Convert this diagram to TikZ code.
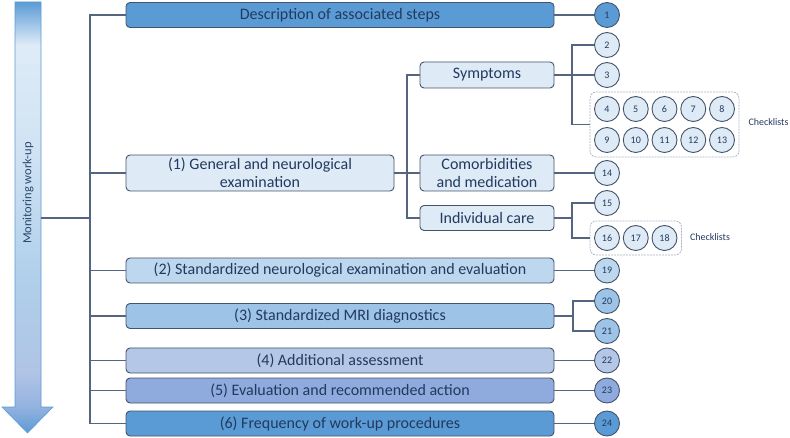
\documentclass[tikz,border=0pt]{standalone}
\usepackage{fontspec}
\setmainfont{Carlito}
\usetikzlibrary{positioning,fit,calc}

\definecolor{lvl1}{HTML}{DEEBF7}
\definecolor{lvl2}{HTML}{BDD7EE}
\definecolor{lvl3}{HTML}{9DC3E6}
\definecolor{lvl4}{HTML}{B4C7E7}
\definecolor{lvl5}{HTML}{8FAADC}
\definecolor{lvl6}{HTML}{5B9BD5}
\definecolor{edgecol}{HTML}{44546A}
\definecolor{linecol}{HTML}{56657F}
\definecolor{textcol}{HTML}{223A5E}
\definecolor{grpcol}{HTML}{A6B2C4}

\pgfdeclareverticalshading{workup}{100bp}{color(0bp)=(lvl6); color(25bp)=(lvl6);
  color(28bp)=(lvl5!70!lvl3); color(32bp)=(lvl4!90!lvl5); color(43bp)=(lvl3!40!lvl2);
  color(58bp)=(lvl2!40!lvl1); color(70bp)=(lvl1); color(73bp)=(lvl6!60!lvl1);
  color(75bp)=(lvl6); color(100bp)=(lvl6)}

\tikzset{
  stepbox/.style={draw=edgecol, line width=0.9pt, rounded corners=4pt, text=textcol,
    font=\fontsize{16}{18}\selectfont, inner sep=0pt, align=center},
  mainbox/.style={stepbox, minimum width=428pt, minimum height=25pt},
  subbox/.style={stepbox, fill=lvl1, minimum width=134pt},
  num/.style={circle, draw=edgecol, line width=0.9pt, fill=lvl1, minimum size=25pt,
    inner sep=0pt, text=textcol, font=\fontsize{10}{11}\selectfont},
  grp/.style={draw=grpcol, dash pattern=on 2pt off 1pt, line width=0.7pt, rounded corners=6pt, inner sep=4pt},
  note/.style={text=textcol, font=\fontsize{10}{12}\selectfont, anchor=west, inner sep=0pt},
  conn/.style={draw=linecol, line width=1.3pt}
}

\begin{document}
\begin{tikzpicture}[x=1pt, y=-1pt, node distance=28.75pt, on grid]
    \useasboundingbox (0,0) rectangle (790,438);

    \shadedraw[shading=workup, draw=lvl6, line width=0.6pt]
      (15,2) -- (41,2) -- (41,407) -- (53,407) -- (27.5,433) -- (2,407) -- (15,407) -- cycle;
    \node[text=textcol!85!lvl6, font=\fontsize{12.5}{14}\selectfont, rotate=90] (mon) at (28,193) {Monitoring work-up};
    \coordinate (arr_r) at (41,218);
    \coordinate (trunk) at (90,218);

    \node[mainbox, fill=lvl6] (desc) at (340,15) {Description of associated steps};
    \node[stepbox, fill=lvl1, minimum width=268pt, minimum height=36pt] (b1) at (260,173) {(1) General and neurological\\examination};
    \node[mainbox, fill=lvl2] (b2) at (340,270.5) {(2) Standardized neurological examination and evaluation};
    \node[mainbox, fill=lvl3] (b3) at (340,316) {(3) Standardized MRI diagnostics};
    \node[mainbox, fill=lvl4] (b4) at (340,360.5) {(4) Additional assessment};
    \node[mainbox, fill=lvl5] (b5) at (340,390.5) {(5) Evaluation and recommended action};
    \node[mainbox, fill=lvl6] (b6) at (340,423.5) {(6) Frequency of work-up procedures};

    \node[subbox, minimum height=26pt] (sym) at (487,75) {Symptoms};
    \node[subbox, minimum height=36pt] (cmb) at (487,173) {Comorbidities\\and medication};
    \node[subbox, minimum height=25pt] (ind) at (487,218) {Individual care};

    \node[num, fill=lvl6] (n1) at (607,15) {1};
    \node[num] (n2) at (607,45) {2};
    \node[num] (n3) at (607,75) {3};
    \node[num] (n4) at (607,109) {4};
    \foreach \i [count=\j from 4] in {5,...,8}
      \node[num, right=of n\j] (n\i) {\i};
    \node[num, below=31pt of n4] (n9) {9};
    \foreach \i [count=\j from 9] in {10,...,13}
      \node[num, right=of n\j] (n\i) {\i};
    \node[grp, fit=(n4)(n13)] (chk1) {};
    \node[note] (chk1_lbl) at ([xshift=9pt,yshift=2pt]chk1.east) {Checklists};

    \node[num] (n14) at (607,173) {14};
    \node[num] (n15) at (607,203) {15};
    \node[num] (n16) at (607,238) {16};
    \node[num, right=of n16] (n17) {17};
    \node[num, right=of n17] (n18) {18};
    \node[grp, fit=(n16)(n18)] (chk2) {};
    \node[note] (chk2_lbl) at ([xshift=8pt,yshift=1pt]chk2.east) {Checklists};

    \node[num, fill=lvl2] (n19) at (607,270.5) {19};
    \node[num, fill=lvl3] (n20) at (607,301) {20};
    \node[num, fill=lvl3] (n21) at (607,331) {21};
    \node[num, fill=lvl4] (n22) at (607,360.5) {22};
    \node[num, fill=lvl5] (n23) at (607,390.5) {23};
    \node[num, fill=lvl6] (n24) at (607,423.5) {24};

    \coordinate (sub_fork) at (407,173);
    \coordinate (sym_fork) at (572,75);
    \coordinate (ind_fork) at (572,218);
    \coordinate (mri_fork) at (573,316);

    \draw[conn] (arr_r) -- (trunk);
    \draw[conn] (desc.west) -| (trunk) |- (b6.west);
    \foreach \b in {b1,b2,b3,b4,b5}
      \draw[conn] (trunk |- \b.west) -- (\b.west);

    \draw[conn] (b1.east) -- (cmb.west);
    \draw[conn] (sym.west) -| (sub_fork) |- (ind.west);

    \draw[conn] (sym.east) -- (n3.west);
    \draw[conn] (n2.west) -| (sym_fork) |- (chk1.west);
    \draw[conn] (cmb.east) -- (n14.west);
    \draw[conn] (ind.east) -- (ind_fork);
    \draw[conn] (n15.west) -| (ind_fork) |- (chk2.west);
    \draw[conn] (b3.east) -- (mri_fork);
    \draw[conn] (n20.west) -| (mri_fork) |- (n21.west);

    \path[conn]
    (desc.east) edge (n1.west)
    (b2.east) edge (n19.west)
    (b4.east) edge (n22.west)
    (b5.east) edge (n23.west)
    (b6.east) edge (n24.west);
  \end{tikzpicture}
\end{document}
